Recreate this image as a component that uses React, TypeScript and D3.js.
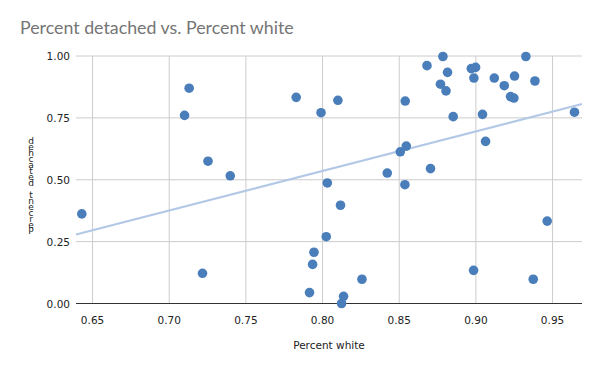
import React from "react";
import * as d3 from "d3";

const pctWhite = [
  0.643, 0.713, 0.71, 0.7253, 0.7398, 0.7217, 0.7828, 0.799, 0.81, 0.8031,
  0.8117, 0.8024, 0.7944, 0.7935, 0.7915, 0.8137, 0.8124, 0.8257, 0.8539, 0.8507,
  0.8546, 0.8422, 0.8537, 0.8704, 0.8681, 0.8785, 0.8815, 0.8769, 0.8805, 0.8852,
  0.897, 0.8998, 0.8987, 0.9043, 0.9063, 0.912, 0.9185, 0.9252, 0.9226, 0.9248,
  0.9326, 0.9385, 0.9643, 0.9465, 0.8985, 0.9374,
];
const pctDetached = [
  0.362, 0.87, 0.76, 0.575, 0.516, 0.122, 0.833, 0.771, 0.821, 0.487,
  0.397, 0.27, 0.207, 0.158, 0.044, 0.029, 0.0, 0.098, 0.818, 0.613,
  0.636, 0.527, 0.48, 0.545, 0.961, 0.998, 0.934, 0.886, 0.859, 0.755,
  0.949, 0.954, 0.911, 0.764, 0.655, 0.911, 0.88, 0.919, 0.836, 0.83,
  0.998, 0.899, 0.773, 0.333, 0.134, 0.098,
];
const xTicks = [0.65, 0.7, 0.75, 0.8, 0.85, 0.9, 0.95];
const yTicks = [0, 0.25, 0.5, 0.75, 1];

const W = 600;
const H = 371;
const plot = { left: 76, right: 582, top: 56, bottom: 303.5 };

export default function App() {
  const x = d3.scaleLinear().domain([0.6392, 0.9692]).range([plot.left, plot.right]);
  const y = d3.scaleLinear().domain([0, 1]).range([plot.bottom, plot.top]);

  // least squares trend line
  const n = pctWhite.length;
  const mx = d3.mean(pctWhite)!;
  const my = d3.mean(pctDetached)!;
  let sxy = 0;
  let sxx = 0;
  for (let i = 0; i < n; i++) {
    sxy += (pctWhite[i] - mx) * (pctDetached[i] - my);
    sxx += (pctWhite[i] - mx) ** 2;
  }
  const slope = sxy / sxx;
  const icpt = my - slope * mx;
  const [x0, x1] = x.domain();
  const trend = d3.line<number>().x((d) => x(d)).y((d) => y(slope * d + icpt));

  const tickFont = "'DejaVu Sans', Verdana, sans-serif";
  // y title is drawn as stacked upright glyphs, like the reference
  const yTitle = "Percent detached";
  const chars = yTitle.split("");
  const yTitleX = chars.map(() => 31).join(" ");
  const yTitleY = chars.map((_, i) => 234 - i * 6).join(" ");

  return (
    <div style={{ position: "absolute", left: 0, top: 0 }}>
      <svg width={W} height={H} style={{ display: "block", background: "#fff" }}>
        <text x={20} y={34} fontFamily="Lato, 'Open Sans', sans-serif" fontSize={17.8} fill="#757575">
          Percent detached vs. Percent white
        </text>

        {yTicks.map((t) => (
          <g key={"y" + t}>
            <line x1={plot.left} x2={plot.right} y1={y(t)} y2={y(t)} stroke={t === 0 ? "#333" : "#ccc"} strokeWidth={1} />
            <text x={70} y={y(t) + 4} textAnchor="end" fontFamily={tickFont} fontSize={10.5} fill="#222">
              {t.toFixed(2)}
            </text>
          </g>
        ))}
        {xTicks.map((t) => (
          <g key={"x" + t}>
            <line x1={x(t)} x2={x(t)} y1={plot.top} y2={plot.bottom - 0.5} stroke="#ccc" strokeWidth={1} />
            <text x={x(t)} y={324} textAnchor="middle" fontFamily={tickFont} fontSize={10.5} fill="#222">
              {t.toFixed(2)}
            </text>
          </g>
        ))}
        <line x1={plot.left} x2={plot.right} y1={plot.bottom} y2={plot.bottom} stroke="#333" strokeWidth={1} />

        <path d={trend([x0, x1]) ?? ""} stroke="#b3c8e6" strokeWidth={2} fill="none" />

        {pctWhite.map((v, i) => (
          <circle key={i} cx={x(v)} cy={y(pctDetached[i])} r={4.8} fill="#4a7ebb" />
        ))}

        <text x={329} y={349} textAnchor="middle" fontFamily={tickFont} fontSize={10.5} fill="#222">
          Percent white
        </text>
        <text x={yTitleX} y={yTitleY} textAnchor="middle" fontFamily={tickFont} fontSize={9} fill="#222">
          {yTitle}
        </text>
      </svg>
    </div>
  );
}
